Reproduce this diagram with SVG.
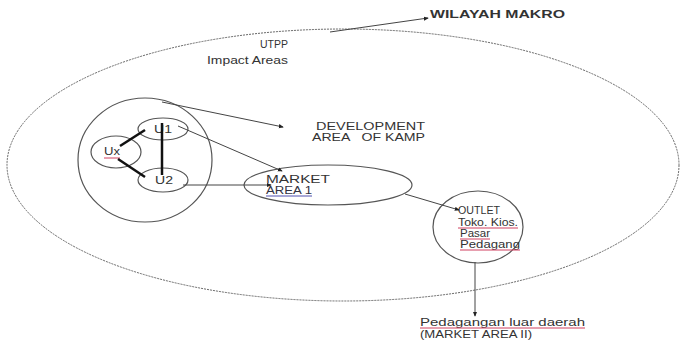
<svg xmlns="http://www.w3.org/2000/svg" width="684" height="342" viewBox="0 0 684 342">
<defs>
<style>
.t{font-family:"Liberation Sans",Arial,sans-serif;font-size:10px;fill:#333}
.b{font-weight:bold}
.sh{fill:none;stroke:#555;stroke-width:1.2}
.ln{fill:none;stroke:#444;stroke-width:1}
.thick{fill:none;stroke:#111;stroke-width:2.5}
.red{stroke:#d04060;stroke-width:1}
.blue{stroke:#5050b0;stroke-width:1}
</style>
<marker id="ah" viewBox="0 0 6 6" refX="5" refY="3" markerWidth="5" markerHeight="5" orient="auto">
<path d="M0,0.5 L6,3 L0,5.5 z" fill="#222"/>
</marker>
</defs>
<rect width="684" height="342" fill="#fff"/>
<g id="wilayah-makro">
<ellipse cx="343" cy="165" rx="336" ry="136" fill="none" stroke="#666" stroke-width="1" stroke-dasharray="2,1"/>
<text class="t b" x="430" y="18" textLength="135" lengthAdjust="spacingAndGlyphs">WILAYAH MAKRO</text>
</g>
<g id="utpp">
<text class="t" x="260" y="48" textLength="28" lengthAdjust="spacingAndGlyphs" style="font-size:11px">UTPP</text>
<text class="t" x="207" y="64" textLength="81" lengthAdjust="spacingAndGlyphs" style="font-size:11px">Impact Areas</text>
</g>
<g id="development-area">
<ellipse class="sh" cx="145" cy="160" rx="67" ry="62"/>
<text class="t" x="316" y="130" textLength="109" lengthAdjust="spacingAndGlyphs">DEVELOPMENT</text>
<text class="t" x="312" y="141" textLength="113" lengthAdjust="spacingAndGlyphs" xml:space="preserve">AREA   OF KAMP</text>
</g>
<g id="u1">
<ellipse class="sh" cx="163" cy="129" rx="25" ry="11"/>
<text class="t" x="154" y="133" textLength="18" lengthAdjust="spacingAndGlyphs">U1</text>
</g>
<g id="ux">
<ellipse class="sh" cx="116" cy="152" rx="25" ry="16"/>
<text class="t" x="104" y="155" textLength="16" lengthAdjust="spacingAndGlyphs">Ux</text>
<line class="red" x1="104" y1="158" x2="120" y2="158"/>
</g>
<g id="u2">
<ellipse class="sh" cx="163" cy="180" rx="25" ry="12"/>
<text class="t" x="155" y="184" textLength="18" lengthAdjust="spacingAndGlyphs">U2</text>
</g>
<g id="market-area-1">
<ellipse class="sh" cx="328" cy="185" rx="84" ry="20"/>
<text class="t" x="266" y="183" textLength="64" lengthAdjust="spacingAndGlyphs">MARKET</text>
<text class="t" x="266" y="194" textLength="46" lengthAdjust="spacingAndGlyphs" style="fill:#334">AREA 1</text>
<line class="blue" x1="266" y1="196" x2="312" y2="196"/>
</g>
<g id="outlet">
<ellipse class="sh" cx="478" cy="227" rx="45" ry="36"/>
<text class="t" x="458" y="214" textLength="42" lengthAdjust="spacingAndGlyphs">OUTLET</text>
<text class="t" x="458" y="226" textLength="60" lengthAdjust="spacingAndGlyphs">Toko. Kios.</text>
<text class="t" x="460" y="237" textLength="30" lengthAdjust="spacingAndGlyphs">Pasar</text>
<text class="t" x="460" y="248" textLength="60" lengthAdjust="spacingAndGlyphs">Pedagang</text>
<line class="red" x1="458" y1="228" x2="518" y2="228"/>
<line class="red" x1="460" y1="239" x2="490" y2="239"/>
<line class="red" x1="460" y1="250" x2="520" y2="250"/>
</g>
<g id="market-area-2">
<text class="t" x="420" y="326" textLength="165" lengthAdjust="spacingAndGlyphs">Pedagangan luar daerah</text>
<text class="t" x="420" y="338" textLength="112" lengthAdjust="spacingAndGlyphs">(MARKET AREA II)</text>
<line class="red" x1="420" y1="328" x2="585" y2="328"/>
</g>
<g id="connectors">
<line class="ln" x1="330" y1="32" x2="428" y2="18" marker-end="url(#ah)"/>
<line class="ln" x1="162" y1="102" x2="283" y2="127" marker-end="url(#ah)"/>
<line class="ln" x1="178" y1="126" x2="282" y2="171" marker-end="url(#ah)"/>
<line class="ln" x1="183" y1="185" x2="271" y2="185" marker-end="url(#ah)"/>
<line class="ln" x1="405" y1="194" x2="459" y2="210" marker-end="url(#ah)"/>
<line class="ln" x1="475" y1="262" x2="475" y2="316" stroke-width="1.8" marker-end="url(#ah)"/>
<line class="thick" x1="120" y1="146" x2="145" y2="130"/>
<line class="thick" x1="162" y1="123" x2="162" y2="175"/>
<line class="thick" x1="118" y1="159" x2="145" y2="177"/>
</g>
</svg>
